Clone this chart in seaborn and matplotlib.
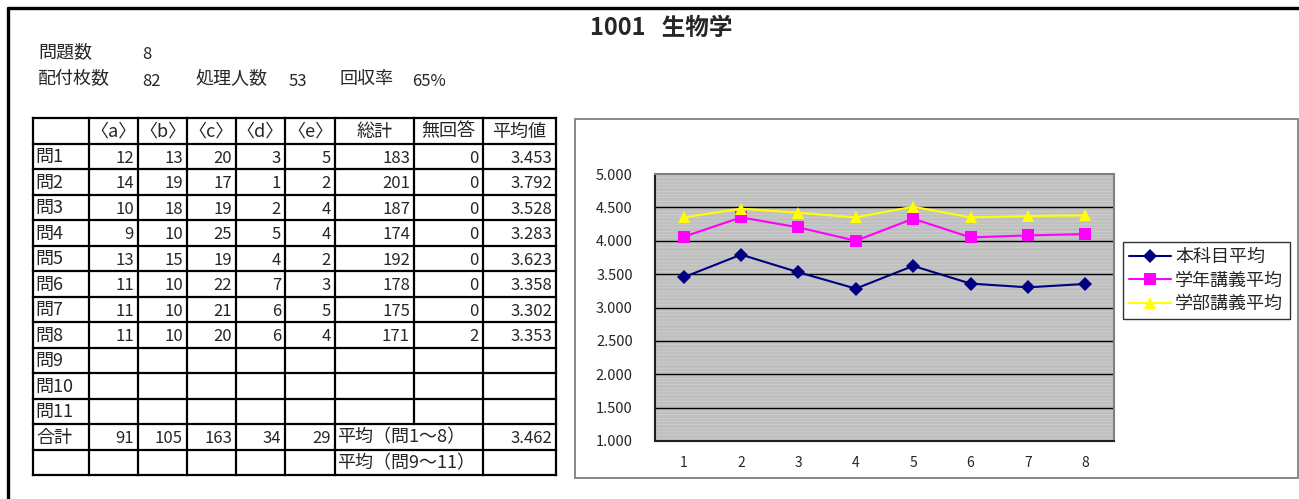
import numpy as np
import pandas as pd
import matplotlib
matplotlib.use('Agg')
import matplotlib.pyplot as plt
from matplotlib.patches import Rectangle
import seaborn as sns

# Data read from the sheet
questions = ['問1', '問2', '問3', '問4', '問5', '問6', '問7', '問8', '問9', '問10', '問11']
opt_a = [12, 14, 10, 9, 13, 11, 11, 11]
opt_b = [13, 19, 18, 10, 15, 10, 10, 10]
opt_c = [20, 17, 19, 25, 19, 22, 21, 20]
opt_d = [3, 1, 2, 5, 4, 7, 6, 6]
opt_e = [5, 2, 4, 4, 2, 3, 5, 4]
totals = [183, 201, 187, 174, 192, 178, 175, 171]
no_answer = [0, 0, 0, 0, 0, 0, 0, 2]
subject_avg = [3.453, 3.792, 3.528, 3.283, 3.623, 3.358, 3.302, 3.353]
overall_avg = 3.462
year_avg = [4.06, 4.35, 4.20, 4.00, 4.33, 4.05, 4.08, 4.10]
faculty_avg = [4.35, 4.48, 4.42, 4.35, 4.51, 4.35, 4.37, 4.38]
q_numbers = [1, 2, 3, 4, 5, 6, 7, 8]
series_names = ['本科目平均', '学年講義平均', '学部講義平均']
headers = ['', '〈a〉', '〈b〉', '〈c〉', '〈d〉', '〈e〉', '総計', '無回答', '平均値']

sns.set_style('white')
plt.rcParams['font.family'] = ['Noto Sans CJK JP', 'DejaVu Sans']

W, H = 1299, 499
fig = plt.figure(figsize=(W / 100, H / 100), dpi=100)

# full-figure canvas in pixel coords
cv = fig.add_axes([0, 0, 1, 1])
cv.set_xlim(0, W)
cv.set_ylim(H, 0)
cv.axis('off')

# sheet border
cv.plot([8, 8], [8, H], color='black', lw=2.4)
cv.plot([8, W], [8, 8], color='black', lw=2.4)

cv.text(661, 28, '1001   生物学', fontsize=17, fontweight='bold', ha='center', va='center')
fs = 13      # japanese labels
fn = 12      # numbers
cv.text(38, 52, '問題数', fontsize=fs, va='center')
cv.text(142, 54, '8', fontsize=fn, va='center')
cv.text(38, 79, '配付枚数', fontsize=fs, va='center')
cv.text(142, 81, '82', fontsize=fn, va='center')
cv.text(195, 79, '処理人数', fontsize=fs, va='center')
cv.text(289, 81, '53', fontsize=fn, va='center')
cv.text(340, 79, '回収率', fontsize=fs, va='center')
cv.text(412, 81, '65%', fontsize=fn, va='center')

# table
col_x = [33, 89, 138, 187, 236, 285, 335, 414, 483, 556]
top, rh = 118, 25.5
n_rows = 14
row_y = [top + rh * i for i in range(n_rows + 1)]
lw_t = 1.6
for y in row_y:
    cv.plot([col_x[0], col_x[-1]], [y, y], color='black', lw=lw_t, solid_capstyle='projecting')
for j, x in enumerate(col_x):
    y_end = row_y[12] if j == 7 else row_y[-1]
    cv.plot([x, x], [row_y[0], y_end], color='black', lw=lw_t, solid_capstyle='projecting')


def cy(i):
    return top + rh * (i + 0.5) + 1


for j, h in enumerate(headers):
    if h:
        cv.text((col_x[j] + col_x[j + 1]) / 2, cy(0), h, fontsize=fs, ha='center', va='center')

cols = [opt_a, opt_b, opt_c, opt_d, opt_e, totals, no_answer]
for i, q in enumerate(questions):
    cv.text(35, cy(i + 1), q, fontsize=fs, ha='left', va='center')
    if i < len(totals):
        for j, col in enumerate(cols):
            cv.text(col_x[j + 2] - 4, cy(i + 1) + 1, str(col[i]), fontsize=fn, ha='right', va='center')
        cv.text(col_x[9] - 4, cy(i + 1) + 1, f'{subject_avg[i]:.3f}', fontsize=fn, ha='right', va='center')

cv.text(36, cy(12), '合計', fontsize=fs, ha='left', va='center')
for j, col in enumerate(cols[:5]):
    cv.text(col_x[j + 2] - 4, cy(12) + 1, str(sum(col)), fontsize=fn, ha='right', va='center')
cv.text(337, cy(12), '平均（問1～8）', fontsize=fs, ha='left', va='center')
cv.text(col_x[9] - 4, cy(12) + 1, f'{overall_avg:.3f}', fontsize=fn, ha='right', va='center')
cv.text(337, cy(13), '平均（問9～11）', fontsize=fs, ha='left', va='center')

# chart frame
cv.add_patch(Rectangle((575, 119), 1298 - 575, 478 - 119, fill=False, edgecolor='#808080', lw=1.3))

# chart
ax = fig.add_axes([655 / W, (H - 441) / H, (1114 - 655) / W, (441 - 174) / H])
ax.set_facecolor('#C0C0C0')
for yy in np.arange(1.0, 5.0, 0.05):
    ax.axhline(yy, color='#CBCBCB', lw=0.6, zorder=0)
for yy in [1.5, 2.0, 2.5, 3.0, 3.5, 4.0, 4.5]:
    ax.axhline(yy, color='black', lw=1.0, zorder=1)

df = pd.DataFrame({
    'q': q_numbers * 3,
    'value': subject_avg + year_avg + faculty_avg,
    'series': [series_names[0]] * 8 + [series_names[1]] * 8 + [series_names[2]] * 8,
})
palette = {series_names[0]: '#000080', series_names[1]: '#FF00FF', series_names[2]: '#FFFF00'}
markers = {series_names[0]: 'D', series_names[1]: 's', series_names[2]: '^'}
sns.lineplot(data=df, x='q', y='value', hue='series', style='series', hue_order=series_names,
             style_order=series_names, palette=palette, markers=markers, dashes=False,
             markersize=9, markeredgewidth=0, lw=1.5, ax=ax, zorder=3)
for ln in ax.lines:
    if ln.get_marker() == 'D':
        ln.set_markersize(7)

ax.set_xlim(0.5, 8.5)
ax.set_ylim(1.0, 5.0)
ax.set_xticks(q_numbers)
ax.set_xticklabels([str(q) for q in q_numbers], fontsize=10)
ax.set_xticks(np.arange(0.5, 9.0, 1.0), minor=True)
ax.tick_params(axis='x', which='major', length=0, pad=11)
ax.tick_params(axis='x', which='minor', length=5, width=1, color='black', direction='out')
ax.set_yticks(np.arange(1.0, 5.01, 0.5))
ax.set_yticklabels([f'{v:.3f}' for v in np.arange(1.0, 5.01, 0.5)], fontsize=10.5)
ax.tick_params(axis='y', length=4, width=1, color='black', direction='out', pad=12)
ax.set_xlabel('')
ax.set_ylabel('')
for side in ['top', 'right']:
    ax.spines[side].set_color('#808080')
    ax.spines[side].set_linewidth(1.5)
for side in ['left', 'bottom']:
    ax.spines[side].set_color('#202020')
    ax.spines[side].set_linewidth(1.5)

handles, labels = ax.get_legend_handles_labels()
leg = ax.legend(handles, labels, loc='upper left', bbox_to_anchor=(1123 / W, (H - 242) / H),
                bbox_transform=fig.transFigure, fontsize=13, frameon=True, fancybox=False,
                edgecolor='black', handlelength=2.3, handletextpad=0.25, labelspacing=0.3,
                borderpad=0.35, borderaxespad=0)
leg.get_frame().set_linewidth(1.0)

fig.savefig('out.png', dpi=100)
